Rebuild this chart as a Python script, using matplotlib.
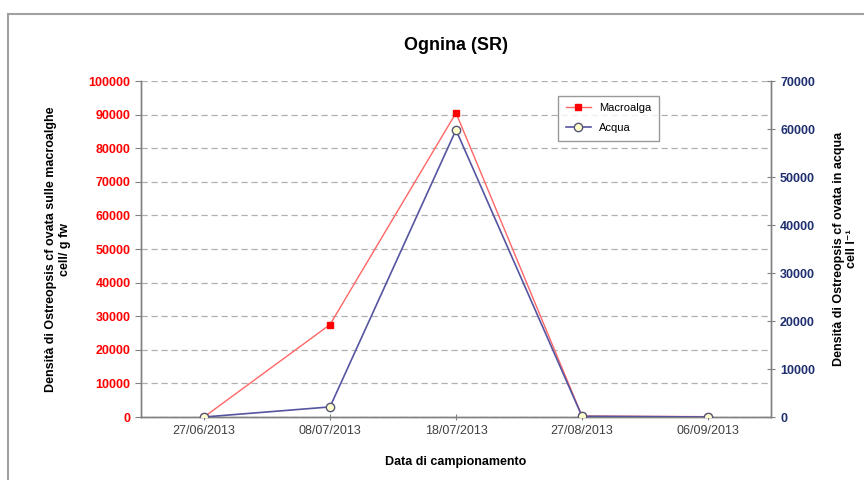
import matplotlib.pyplot as plt
from matplotlib.patches import Rectangle

plt.rcParams['font.family'] = ['Liberation Sans', 'DejaVu Sans']

# data
dates = ['27/06/2013', '08/07/2013', '18/07/2013', '27/08/2013', '06/09/2013']
macroalga = [0, 27500, 90500, 300, 100]
acqua = [0, 2100, 59800, 150, 0]

red = '#FF0000'

fig = plt.figure(figsize=(8.64, 4.8), dpi=100)

# grey frame around the chart area (left and top edges visible)
fig.patches.append(Rectangle((8 / 864, -0.1), 1.1, 1 - 14 / 480 + 0.1,
                             transform=fig.transFigure, fill=False,
                             edgecolor='#A0A0A0', linewidth=1.5))

ax1 = fig.add_axes([141 / 864, 63 / 480, 630 / 864, 336 / 480])
ax2 = ax1.twinx()

x = range(len(dates))

ax1.plot(x, macroalga, color='#FF6666', linewidth=1, marker='s', markersize=5,
         markerfacecolor=red, markeredgecolor=red, label='Macroalga', zorder=3)
ax2.plot(x, acqua, color='#5555A0', linewidth=1.2, marker='o', markersize=6,
         markerfacecolor='#FFFFCC', markeredgecolor='#555577', label='Acqua', zorder=4)

ax1.set_xlim(-0.5, len(dates) - 0.5)
ax1.set_ylim(0, 100000)
ax2.set_ylim(0, 70000)
ax1.set_yticks(range(0, 100001, 10000))
ax2.set_yticks(range(0, 70001, 10000))
ax1.set_xticks(list(x))
ax1.set_xticklabels(dates)

ax1.yaxis.grid(True, linestyle=(0, (5, 3)), color='#B0B0B0', linewidth=0.9)
ax1.set_axisbelow(True)

for ax in (ax1, ax2):
    ax.spines['top'].set_visible(False)
    for s in ('left', 'right', 'bottom'):
        ax.spines[s].set_color('#808080')
        ax.spines[s].set_linewidth(1)

ax1.tick_params(axis='y', colors='#808080', labelcolor=red, labelsize=9,
                length=4, direction='out')
for lab in ax1.get_yticklabels():
    lab.set_fontweight('bold')
ax2.tick_params(axis='y', colors='#808080', labelcolor='#1F2F6F', labelsize=9,
                length=6, direction='inout')
for lab in ax2.get_yticklabels():
    lab.set_fontweight('bold')
ax1.tick_params(axis='x', colors='#808080', labelcolor='#404040', labelsize=9,
                length=4, direction='inout')

ax1.set_xlabel('Data di campionamento', fontsize=9, fontweight='bold', labelpad=14)
ax1.set_ylabel('Densità di Ostreopsis cf ovata sulle macroalghe\ncell/ g fw',
               fontsize=9, fontweight='bold', labelpad=13)
ax2.set_ylabel('Densità di Ostreopsis cf ovata in acqua\ncell l\u207b\u00b9',
               fontsize=9, fontweight='bold', labelpad=13, linespacing=1.1)

ax1.set_title('Ognina (SR)', fontsize=13, fontweight='bold', pad=22)

h1, l1 = ax1.get_legend_handles_labels()
h2, l2 = ax2.get_legend_handles_labels()
leg = ax2.legend(h1 + h2, l1 + l2, loc='upper right',
                 bbox_to_anchor=(665 / 864, 1 - 90 / 480), bbox_transform=fig.transFigure,
                 fontsize=8, frameon=True, fancybox=False, handlelength=2.2,
                 borderpad=0.7, labelspacing=0.9)
leg.get_frame().set_edgecolor('#808080')
leg.get_frame().set_linewidth(1)

fig.savefig('out.png', dpi=100)
